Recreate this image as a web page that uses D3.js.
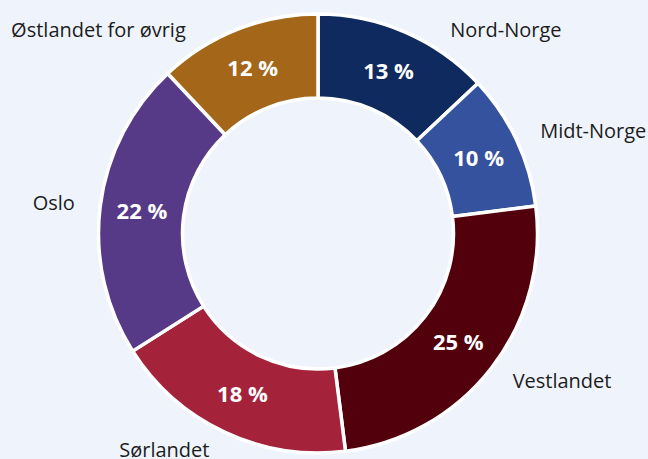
<!DOCTYPE html>
<html>
<head>
<meta charset="utf-8">
<script src="https://cdn.jsdelivr.net/npm/d3@7"></script>
<style>
  html, body { margin: 0; padding: 0; background: #eff4fc; }
  svg { display: block; font-family: "Open Sans", "Noto Sans", sans-serif; }
</style>
</head>
<body>
<svg id="chart" width="648" height="459"></svg>
<script>
// Regions, clockwise from 12 o'clock
const regions = ['Nord-Norge', 'Midt-Norge', 'Vestlandet', 'Sørlandet', 'Oslo', 'Østlandet for øvrig'];
const shares = [13, 10, 25, 18, 22, 12];
const colors = ['#0f2a5f', '#34529d', '#52000c', '#a4233b', '#573a87', '#a46618'];

const width = 648;
const height = 459;
const cx = 318;
const cy = 233.5;
const outerR = 219.5;
const innerR = 135.5;
const labelR = 240;

const data = regions.map((name, i) => ({ name, value: shares[i], color: colors[i] }));

const svg = d3.select('#chart');
const g = svg.append('g').attr('transform', `translate(${cx}, ${cy})`);

// Pie layout, keep input order
const pie = d3.pie().sort(null).value(d => d.value);
const arc = d3.arc().innerRadius(innerR).outerRadius(outerR);
const arcs = pie(data);

// Slices
g.selectAll('path.slice')
  .data(arcs)
  .enter()
  .append('path')
    .attr('class', 'slice')
    .attr('d', arc)
    .attr('fill', d => d.data.color)
    .attr('stroke', '#ffffff')
    .attr('stroke-width', 3.5)
    .attr('stroke-linejoin', 'miter');

// Percent labels inside the ring
g.selectAll('text.pct')
  .data(arcs)
  .enter()
  .append('text')
    .attr('class', 'pct')
    .attr('transform', d => `translate(${arc.centroid(d)})`)
    .attr('text-anchor', 'middle')
    .attr('dy', '0.36em')
    .attr('fill', '#ffffff')
    .attr('font-size', 22)
    .attr('font-weight', 700)
    .text(d => `${d.data.value} %`);

// Category labels outside the ring, placed on a circle around the donut
const yMin = 30 - cy;
const yMax = height - 9 - cy;
const labelPos = d => {
  const mid = (d.startAngle + d.endAngle) / 2;
  const y = Math.max(yMin, Math.min(yMax, -Math.cos(mid) * labelR));
  const right = Math.sin(mid) >= 0;
  const a = Math.asin(Math.max(-1, Math.min(1, y / labelR)));
  const x = (right ? 1 : -1) * (Math.cos(a) * labelR + 5);
  return { x, y, right };
};

g.selectAll('text.name')
  .data(arcs)
  .enter()
  .append('text')
    .attr('class', 'name')
    .attr('x', d => labelPos(d).x)
    .attr('y', d => labelPos(d).y)
    .attr('dy', '0.35em')
    .attr('text-anchor', d => (labelPos(d).right ? 'start' : 'end'))
    .attr('fill', '#1c1c1c')
    .attr('font-size', 20)
    .text(d => d.data.name);
</script>
</body>
</html>
